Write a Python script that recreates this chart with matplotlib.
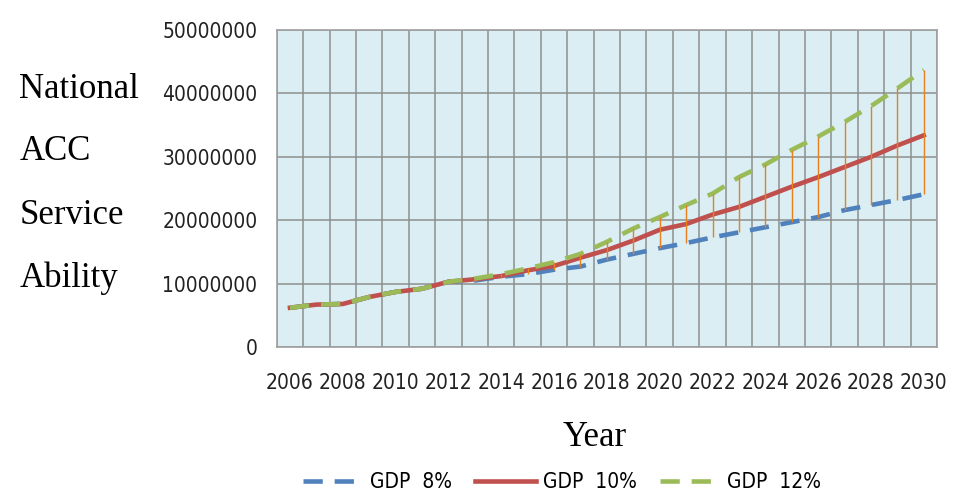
import matplotlib
matplotlib.use("Agg")
import matplotlib.pyplot as plt
import numpy as np

years = list(range(2006, 2031))
gdp_8 = [6.2, 6.7, 6.8, 7.9, 8.7, 9.2, 10.3, 10.5, 11.1, 11.5, 12.2, 12.7, 13.8,
         14.7, 15.6, 16.4, 17.3, 18.1, 18.9, 19.7, 20.5, 21.6, 22.4, 23.2, 24.1]
gdp_10 = [6.2, 6.7, 6.8, 7.9, 8.7, 9.2, 10.3, 10.7, 11.2, 12.1, 12.8, 14.1, 15.3,
          16.8, 18.5, 19.4, 20.9, 22.1, 23.7, 25.3, 26.8, 28.4, 30.0, 31.8, 33.4]
gdp_12 = [6.2, 6.7, 6.8, 7.9, 8.7, 9.2, 10.3, 10.8, 11.5, 12.4, 13.4, 14.7, 16.6,
          18.7, 20.5, 22.4, 24.2, 26.8, 28.8, 31.1, 33.2, 35.5, 38.0, 40.8, 43.7]
series_labels = ["GDP  8%", "GDP  10%", "GDP  12%"]
ylabel_words = ["National", "ACC", "Service", "Ability"]
yticks = [0, 10000000, 20000000, 30000000, 40000000, 50000000]

tick_font = dict(family=["DejaVu Sans"], stretch="condensed", size=15)
serif_font = ["Liberation Serif", "DejaVu Serif"]

x = np.arange(len(years))
v8 = np.array(gdp_8) * 1e6
v10 = np.array(gdp_10) * 1e6
v12 = np.array(gdp_12) * 1e6

fig = plt.figure(figsize=(9.61, 4.93), dpi=100)
ax = fig.add_axes([0.288, 0.296, 0.687, 0.643])
ax.set_facecolor("#DAEEF3")

ax.plot(x, v8, color="#4F81BD", lw=3.3, dashes=(4.2, 2.6), label=series_labels[0], zorder=3)
ax.plot(x, v10, color="#C0504D", lw=3.3, label=series_labels[1], zorder=3)
ax.plot(x, v12, color="#9BBB59", lw=3.3, dashes=(4.2, 2.6), label=series_labels[2], zorder=3)
# high-low lines between the scenarios
lo = np.minimum(np.minimum(v8, v10), v12)
hi = np.maximum(np.maximum(v8, v10), v12)
ax.vlines(x, lo, hi, color="#E8801E", lw=1.0, zorder=4)

ax.set_xlim(-0.5, len(years) - 0.5)
ax.set_ylim(0, 50000000)
ax.set_xticks(x[::2])
ax.set_xticklabels([str(y) for y in years[::2]], **tick_font)
ax.set_xticks(np.arange(-0.5, len(years)), minor=True)
ax.set_yticks(yticks)
ax.set_yticklabels([str(v) for v in yticks], **tick_font)
ax.tick_params(axis="both", which="both", length=0, colors="#222222")
ax.tick_params(axis="x", pad=19)
ax.tick_params(axis="y", pad=14)
ax.grid(True, which="minor", axis="x", color="#8E8E8E", lw=1.1)
ax.grid(True, which="major", axis="y", color="#8E8E8E", lw=1.1)
ax.set_axisbelow(True)
for s in ax.spines.values():
    s.set_color("#A0A0A0")
    s.set_linewidth(1.2)

for i, w in enumerate(ylabel_words):
    fig.text(0.02, 1 - (89 + i * 63) / 493, w, family=serif_font, fontsize=25,
             ha="left", va="center")
fig.text(595 / 961, 1 - 437 / 493, "Year", family=serif_font, fontsize=25,
         ha="center", va="center")

fig.legend(loc="center", bbox_to_anchor=(562 / 961, 1 - 482 / 493), ncol=3,
           frameon=False, prop=tick_font,
           handlelength=2.9, columnspacing=1.1, handletextpad=0.35)

fig.savefig("out.png", dpi=100)
